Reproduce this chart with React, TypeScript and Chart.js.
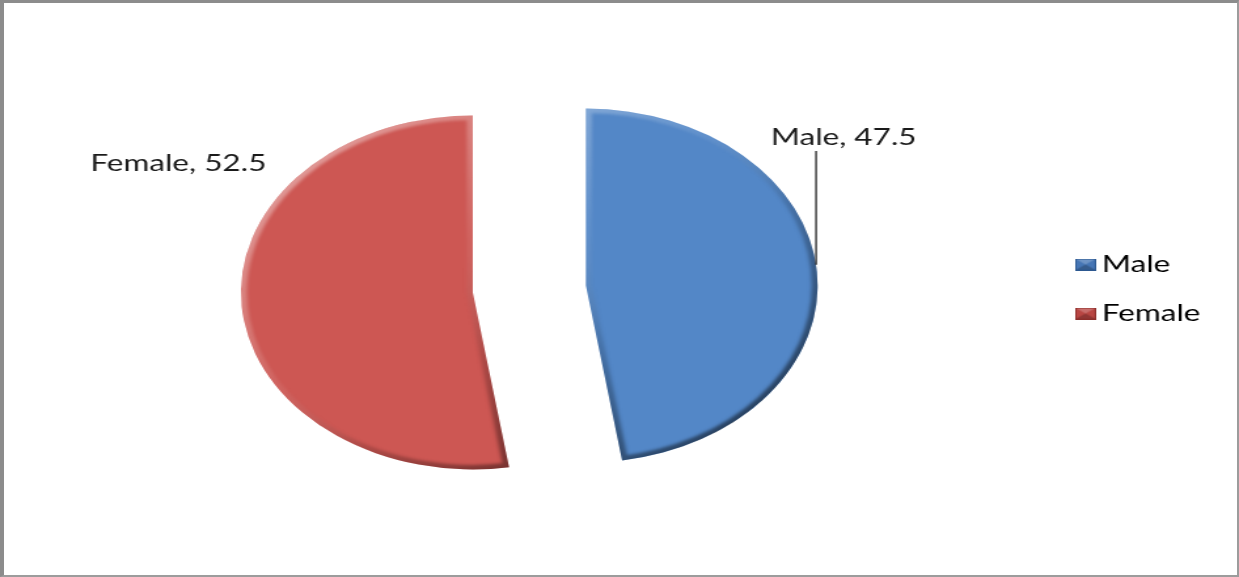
import React, { useEffect, useRef } from 'react';
import { Chart, registerables } from 'chart.js';

Chart.register(...registerables);

// ---- data ----
const categories: string[] = ['Male', 'Female'];
const values: number[] = [47.5, 52.5];

// ---- styles ----
const baseColors = ['#5387C7', '#CD5753'];
const markerColors = ['#4676B5', '#B94643'];
const darkColors = ['#2C5890', '#8C2E2B'];
const FONT = 'Lato, "Open Sans", sans-serif';
const TEXT_COLOR = '#1a1a1a';

const W = 946;
const H = 577;
const STRETCH = 1239 / W;
const RADIUS = 177;
const EXPLODE = 43.3;
// label centres relative to the exploded slice centre, in radius units
const LABEL_OFFSETS = [
  { x: 1.112, y: -0.84 },
  { x: -1.27, y: -0.728 },
];
// leader line x position (radius units) per slice, null = none
const LEADERS: (number | null)[] = [0.993, null];

function makeMarker(fill: string, dark: string): HTMLCanvasElement {
  const c = document.createElement('canvas');
  const w = 16;
  const h = 12;
  c.width = w;
  c.height = h;
  const g = c.getContext('2d')!;
  g.fillStyle = dark;
  g.fillRect(0, 0, w, h);
  g.fillStyle = fill;
  g.fillRect(1, 1, w - 2, h - 2);
  // bevel: lighter top, darker bottom
  g.fillStyle = 'rgba(255,255,255,0.22)';
  g.beginPath();
  g.moveTo(1, 1);
  g.lineTo(w - 1, 1);
  g.lineTo(w / 2, h / 2);
  g.closePath();
  g.fill();
  g.fillStyle = 'rgba(0,0,0,0.22)';
  g.beginPath();
  g.moveTo(1, h - 1);
  g.lineTo(w / 2, h / 2);
  g.lineTo(w - 1, h - 1);
  g.closePath();
  g.fill();
  return c;
}

const explodedPiePlugin = {
  id: 'explodedPie',
  beforeDatasetsDraw(chart: any) {
    const ctx: CanvasRenderingContext2D = chart.ctx;
    const meta = chart.getDatasetMeta(0);
    meta.data.forEach((el: any) => {
      const { x, y, startAngle, endAngle, outerRadius } = el.getProps(
        ['x', 'y', 'startAngle', 'endAngle', 'outerRadius'],
        true
      );
      const mid = (startAngle + endAngle) / 2;
      ctx.save();
      ctx.translate(Math.cos(mid) * EXPLODE, Math.sin(mid) * EXPLODE);
      el.draw(ctx);
      // soft bevel along the edges
      ctx.beginPath();
      ctx.moveTo(x, y);
      ctx.arc(x, y, outerRadius, startAngle, endAngle);
      ctx.closePath();
      ctx.clip();
      const g = ctx.createLinearGradient(
        x - outerRadius,
        y - outerRadius,
        x + outerRadius,
        y + outerRadius
      );
      g.addColorStop(0, 'rgba(255,255,255,0.55)');
      g.addColorStop(0.42, 'rgba(255,255,255,0.08)');
      g.addColorStop(0.6, 'rgba(0,0,0,0.15)');
      g.addColorStop(1, 'rgba(0,0,0,0.7)');
      ctx.filter = 'blur(1.5px)';
      ctx.lineJoin = 'round';
      ctx.lineWidth = 9;
      ctx.strokeStyle = g;
      ctx.stroke();
      ctx.restore();
    });
    return false;
  },
  afterDraw(chart: any) {
    const ctx: CanvasRenderingContext2D = chart.ctx;
    const meta = chart.getDatasetMeta(0);
    ctx.save();
    ctx.font = `24px ${FONT}`;
    ctx.fillStyle = TEXT_COLOR;
    ctx.textAlign = 'center';
    ctx.textBaseline = 'middle';
    ctx.strokeStyle = '#111';
    ctx.lineWidth = 1.2;
    meta.data.forEach((el: any, i: number) => {
      const { x, y, startAngle, endAngle, outerRadius } = el.getProps(
        ['x', 'y', 'startAngle', 'endAngle', 'outerRadius'],
        true
      );
      const mid = (startAngle + endAngle) / 2;
      const cx = x + Math.cos(mid) * EXPLODE;
      const cy = y + Math.sin(mid) * EXPLODE;
      const lx = cx + LABEL_OFFSETS[i].x * outerRadius;
      const ly = cy + LABEL_OFFSETS[i].y * outerRadius;
      ctx.fillText(`${categories[i]}, ${values[i]}`, lx, ly);
      const lead = LEADERS[i];
      if (lead !== null) {
        const px = cx + lead * outerRadius;
        const ddx = px - cx;
        const py = cy - Math.sqrt(Math.max(outerRadius * outerRadius - ddx * ddx, 0));
        ctx.beginPath();
        ctx.moveTo(px, ly + 14);
        ctx.lineTo(px, py);
        ctx.stroke();
      }
    });
    ctx.restore();
  },
};

export default function App() {
  const ref = useRef<HTMLCanvasElement>(null);

  useEffect(() => {
    const markers = categories.map((_, i) => makeMarker(markerColors[i], darkColors[i]));
    const chart = new Chart(ref.current!, {
      type: 'pie',
      data: {
        labels: categories,
        datasets: [
          {
            data: values,
            backgroundColor: baseColors,
            borderWidth: 0,
          },
        ],
      },
      options: {
        animation: false,
        responsive: false,
        devicePixelRatio: 1,
        radius: RADIUS,
        layout: { padding: { left: 5, right: 19.5, top: 1, bottom: 0 } },
        plugins: {
          tooltip: { enabled: false },
          legend: {
            position: 'right',
            align: 'center',
            labels: {
              usePointStyle: true,
              boxWidth: 1,
              boxHeight: 12,
              padding: 25,
              color: TEXT_COLOR,
              font: { family: FONT, size: 24 },
              generateLabels: () =>
                categories.map((c, i) => ({
                  text: c,
                  fillStyle: baseColors[i],
                  strokeStyle: darkColors[i],
                  lineWidth: 0,
                  pointStyle: markers[i] as any,
                  hidden: false,
                  index: i,
                  datasetIndex: 0,
                })),
            },
          },
        },
      } as any,
      plugins: [explodedPiePlugin as any],
    });
    return () => chart.destroy();
  }, []);

  return (
    <div
      style={{
        position: 'absolute',
        left: 0,
        top: 0,
        width: 1239,
        height: 577,
        overflow: 'hidden',
        background: '#fff',
      }}
    >
      <div
        style={{
          position: 'absolute',
          left: 0,
          top: 0,
          width: W,
          height: H,
          transform: `scaleX(${STRETCH})`,
          transformOrigin: '0 0',
        }}
      >
        <canvas ref={ref} width={W} height={H} style={{ display: 'block' }} />
      </div>
      <div
        style={{
          position: 'absolute',
          left: 0,
          top: 0,
          width: 1239,
          height: 577,
          boxSizing: 'border-box',
          borderTop: '3px solid #8c8c8c',
          borderLeft: '4px solid #8c8c8c',
          borderRight: '2px solid #9c9c9c',
          borderBottom: '2px solid #9c9c9c',
          pointerEvents: 'none',
        }}
      />
    </div>
  );
}
